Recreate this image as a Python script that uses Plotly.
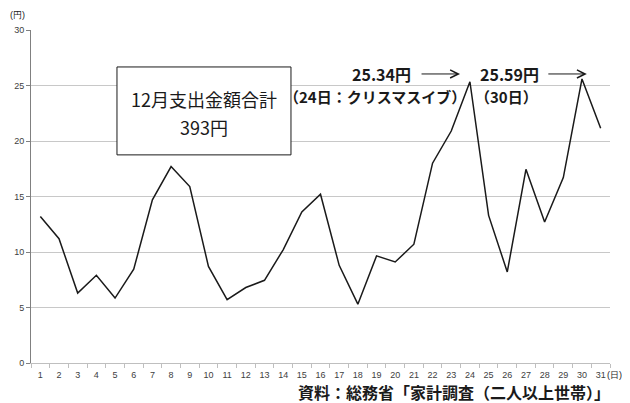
import plotly.graph_objects as go

days = [str(d) for d in range(1, 32)]
spend = [13.2, 11.2, 6.3, 7.9, 5.85, 8.45, 14.7, 17.7, 15.9, 8.7,
         5.7, 6.8, 7.45, 10.2, 13.6, 15.2, 8.8, 5.3, 9.65, 9.1,
         10.7, 18.0, 20.9, 25.34, 13.3, 8.2, 17.45, 12.7, 16.7, 25.59, 21.15]
y_ticks = [0, 5, 10, 15, 20, 25, 30]

JP = "Noto Sans CJK JP"
TICK_FONT = dict(family="Liberation Sans", size=9, color="#404040")

fig = go.Figure()
fig.add_trace(go.Scatter(
    x=days, y=spend, mode="lines",
    line=dict(color="#1a1a1a", width=1.5),
    showlegend=False, hoverinfo="skip",
))

# page body has an 8px margin, so the figure is shrunk by that much
fig.update_layout(
    width=622, height=395,
    margin=dict(l=23, r=20, t=22, b=40),
    paper_bgcolor="white", plot_bgcolor="white",
    xaxis=dict(
        type="category", range=[-0.5, len(days) - 0.5],
        tickson="boundaries", ticks="outside", ticklen=4,
        tickcolor="#bfbfbf", showline=True, linecolor="#bfbfbf", linewidth=1,
        showgrid=False, tickfont=TICK_FONT, tickangle=0, automargin=False,
        ticklabelstandoff=3,
    ),
    yaxis=dict(
        range=[0, 30], tickvals=y_ticks, showline=True, linecolor="#808080",
        linewidth=1, ticks="outside", ticklen=4, tickcolor="#808080",
        gridcolor="#c8c8c8", gridwidth=1, zeroline=False, tickfont=TICK_FONT,
        automargin=False,
    ),
)

# summary box
fig.add_shape(type="rect", xref="paper", yref="paper",
              x0=0.1485, x1=0.449, y0=0.625, y1=0.889,
              line=dict(color="#1a1a1a", width=1), fillcolor="white", layer="above")


def px_ann(text, x, y, size, bold=False, family=JP, anchor="center"):
    fig.add_annotation(
        text=f"<b>{text}</b>" if bold else text,
        xref="paper", yref="paper", x=x, y=y, showarrow=False,
        xanchor=anchor, yanchor="middle",
        font=dict(family=family, size=size, color="#1a1a1a"),
    )


px_ann("12月支出金額合計", 0.2988, 0.792, 18)
px_ann("393円", 0.2988, 0.708, 18)

px_ann("25.34円", 0.606, 0.868, 16, bold=True)
px_ann("（24日：クリスマスイブ）", 0.594, 0.80, 15, bold=True)
px_ann("25.59円", 0.827, 0.868, 16, bold=True)
px_ann("（30日）", 0.822, 0.80, 15, bold=True)

for tip in (0.741, 0.960):
    fig.add_annotation(
        x=tip, y=0.868, xref="paper", yref="paper", ax=-40, ay=0,
        axref="pixel", ayref="pixel", text="", showarrow=True,
        arrowhead=5, arrowsize=1.6, arrowwidth=1, arrowcolor="#1a1a1a",
    )

px_ann("(円)", -0.024, 1.045, 9, family="Liberation Sans")
px_ann("(日)", 1.008, -0.036, 9, family="Liberation Sans")
px_ann("資料：総務省「家計調査（二人以上世帯）」", 1.004, -0.088, 16, bold=True,
       anchor="right")

fig.write_html("out.html")
